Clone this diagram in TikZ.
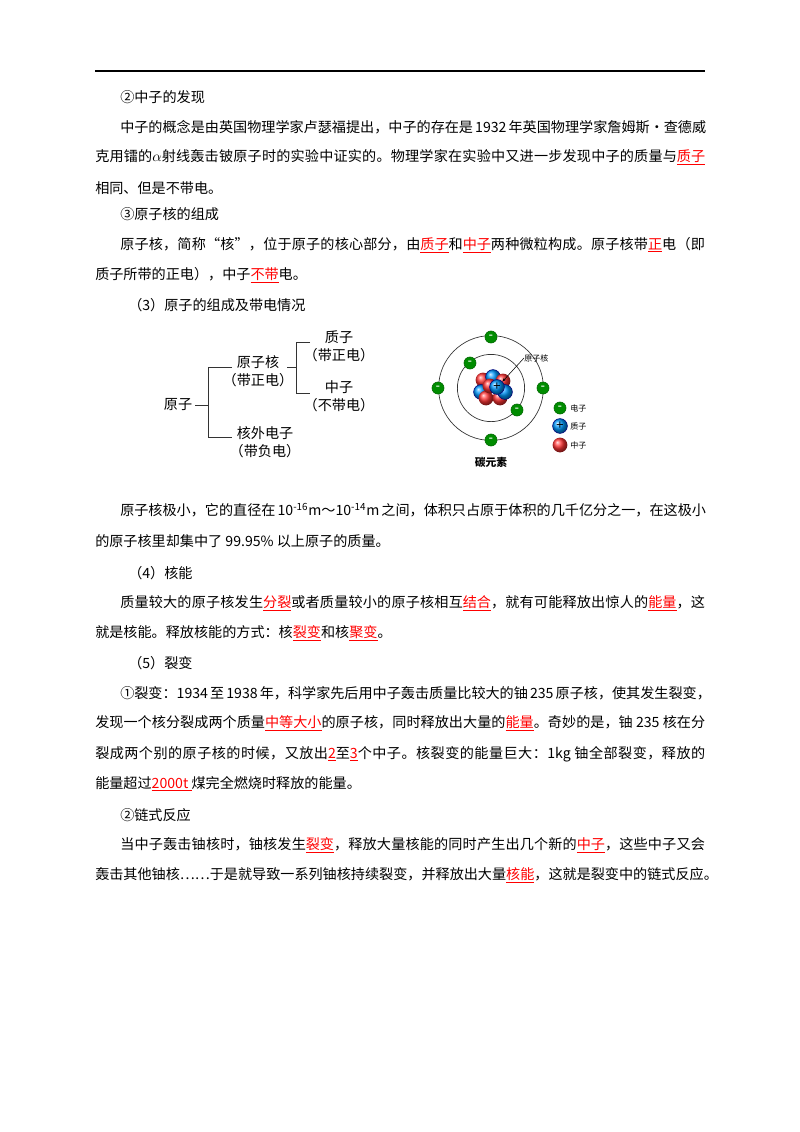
\documentclass[tikz,border=0pt]{standalone}
\usepackage{fontspec}
\usetikzlibrary{arrows.meta}
\setmainfont{Liberation Serif}
\newfontfamily\cjk{Noto Sans CJK SC}
\XeTeXinterchartokenstate=1
\newcount\cc
\newcommand{\setcls}[2]{\cc=#1 \loop\XeTeXcharclass\cc=1 \ifnum\cc<#2 \advance\cc by 1 \repeat}
\setcls{"4E00}{"9FFF}
\setcls{"3000}{"303F}
\setcls{"FF00}{"FFEF}
\setcls{"2460}{"2473}
\XeTeXcharclass"201C=1 \XeTeXcharclass"201D=1 \XeTeXcharclass"2026=1 \XeTeXcharclass"00B7=1
\XeTeXinterchartoks 1 1 = {\hskip0pt plus 1pt\relax}
\XeTeXinterchartoks 0 1 = {\hskip0pt plus 1pt\relax}
\XeTeXinterchartoks 1 0 = {\hskip0pt plus 1pt\relax}
\newcommand{\R}[1]{\textcolor{red}{\underline{#1}}}
\newcommand{\FL}[1]{\hbox to 435pt{#1}}
\newcommand{\FLL}[1]{\hbox to 453.8pt{#1}}
\begin{document}
\begin{tikzpicture}[x=0.744pt,y=-0.744pt,
  txt/.style={anchor=west,inner sep=0pt,font=\cjk\fontsize{10.5pt}{12pt}\selectfont},
  tr/.style={inner sep=0pt,align=center,font=\cjk\fontsize{10.5pt}{13.5pt}\selectfont},
  br/.style={line width=0.6pt,black!80},
  elec/.style={circle,draw=green!40!black,fill=green!55!black,minimum size=9pt,inner sep=0pt,text=white,font=\bfseries\small},
  prot/.style={circle,draw=blue!50!black,shade,ball color=cyan!60!blue,minimum size=11pt,inner sep=0pt,font=\bfseries},
  neut/.style={circle,shade,ball color=red!80,minimum size=11pt,inner sep=0pt}]
\useasboundingbox (0,0) rectangle (800,1132);
\draw[line width=1.1pt] (95,71) -- (705,71);
\node[txt] (l1) at (120,97) {②中子的发现};
\node[txt] (l2) at (120,127) {\FL{中子的概念是由英国物理学家卢瑟福提出，中子的存在是 1932 年英国物理学家詹姆斯·查德威}};
\node[txt] (l3) at (95,157) {\FLL{克用镭的$\alpha$射线轰击铍原子时的实验中证实的。物理学家在实验中又进一步发现中子的质量与\R{质子}}};
\node[txt] (l4) at (95,188) {相同、但是不带电。};
\node[txt] (l5) at (120,214) {③原子核的组成};
\node[txt] (l6) at (120,245) {\FL{原子核，简称“核”，位于原子的核心部分，由\R{质子}和\R{中子}两种微粒构成。原子核带\R{正}电（即}};
\node[txt] (l7) at (95,275) {质子所带的正电），中子\R{不带}电。};
\node[txt] (l8) at (128,305) {（3）原子的组成及带电情况};
% tree
\node[tr] (yz) at (178,405) {原子};
\node[tr] (yzh) at (258,371) {原子核\\（带正电）};
\node[tr] (hw) at (265,442) {核外电子\\（带负电）};
\node[tr] (zz) at (339,346) {质子\\（带正电）};
\node[tr] (nz) at (339,396) {中子\\（不带电）};
\draw[br] (yz.east) ++(3,0) -- (208,405);
\draw[br] (232,367) -- (208,367) -- (208,437) -- (232,437);
\draw[br] (287,367) -- (296,367);
\draw[br] (310,342) -- (296,342) -- (296,393) -- (310,393);
% atom
\coordinate (c) at (491,388);
\draw[black!80,line width=0.5pt] (c) circle[radius=39pt];
\draw[black!80,line width=0.5pt] (c) circle[radius=25pt];
\node[neut] (n1) at (483,380) {};
\node[prot] (p1) at (493,377) {};
\node[neut] (n2) at (503,381) {};
\node[prot] (p2) at (481,392) {};
\node[neut] (n3) at (486,398) {};
\node[neut] (n4) at (500,398) {};
\node[prot] (p3) at (505,392) {};
\node[neut] (n5) at (490,386) {};
\node[prot] (p4) at (497,387) {+};
\foreach \n/\p in {e1/{491,337},e2/{491,440},e3/{438,388},e4/{543,388},e5/{470,363},e6/{517,410}}
  \node[elec] (\n) at (\p) {-};
\node[tr,font=\cjk\fontsize{6pt}{7pt}\selectfont,anchor=west] (lab) at (524,358) {原子核};
\draw[-{Stealth[length=3pt]},line width=0.4pt] (lab.west) -- (p4.north east);
\node[elec] (le) at (560,408) {-};
\node[prot] (lp) at (560,426) {+};
\node[neut] (ln) at (560,445) {};
\node[tr,anchor=west,font=\cjk\fontsize{6pt}{7pt}\selectfont] at (570,408) {电子};
\node[tr,anchor=west,font=\cjk\fontsize{6pt}{7pt}\selectfont] at (570,426) {质子};
\node[tr,anchor=west,font=\cjk\fontsize{6pt}{7pt}\selectfont] at (570,445) {中子};
\node[tr,font=\cjk\bfseries\fontsize{8pt}{9pt}\selectfont] (ty) at (491,462) {碳元素};
% text
\node[txt] (l9) at (120,510) {\FL{原子核极小，它的直径在 10\textsuperscript{-16}m～10\textsuperscript{-14}m 之间，体积只占原于体积的几千亿分之一，在这极小}};
\node[txt] (l10) at (95,541) {的原子核里却集中了 99.95\% 以上原子的质量。};
\node[txt] (l11) at (128,573) {（4）核能};
\node[txt] (l12) at (120,603) {\FL{质量较大的原子核发生\R{分裂}或者质量较小的原子核相互\R{结合}，就有可能释放出惊人的\R{能量}，这}};
\node[txt] (l13) at (95,633) {就是核能。释放核能的方式：核\R{裂变}和核\R{聚变}。};
\node[txt] (l14) at (128,663) {（5）裂变};
\node[txt] (l15) at (120,693) {\FL{①裂变：1934 至 1938 年，科学家先后用中子轰击质量比较大的铀 235 原子核，使其发生裂变，}};
\node[txt] (l16) at (95,723) {\FLL{发现一个核分裂成两个质量\R{中等大小}的原子核，同时释放出大量的\R{能量}。奇妙的是，铀 235 核在分}};
\node[txt] (l17) at (95,754) {\FLL{裂成两个别的原子核的时候，又放出\R{2}至\R{3}个中子。核裂变的能量巨大：1kg 铀全部裂变，释放的}};
\node[txt] (l18) at (95,784) {能量超过\R{2000t\ }煤完全燃烧时释放的能量。};
\node[txt] (l19) at (120,815) {②链式反应};
\node[txt] (l20) at (120,845) {\FL{当中子轰击铀核时，铀核发生\R{裂变}，释放大量核能的同时产生出几个新的\R{中子}，这些中子又会}};
\node[txt] (l21) at (95,875) {\FLL{轰击其他铀核……于是就导致一系列铀核持续裂变，并释放出大量\R{核能}，这就是裂变中的链式反应。}};
\end{tikzpicture}
\end{document}
